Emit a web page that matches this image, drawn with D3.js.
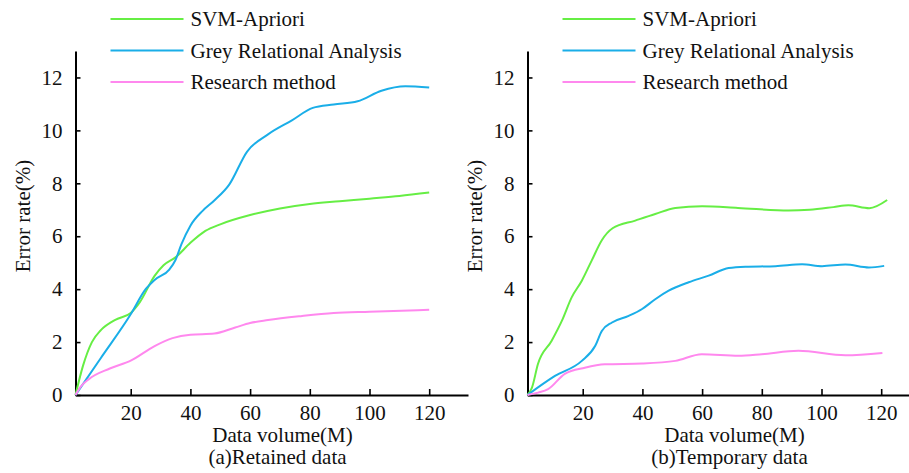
<!DOCTYPE html>
<html>
<head>
<meta charset="utf-8">
<script src="https://cdn.jsdelivr.net/npm/d3@7"></script>
<style>
  body { margin: 0; background: #fff; }
  svg, svg text { font-family: "Liberation Serif", "Times New Roman", Times, "DejaVu Serif", serif !important; }
</style>
</head>
<body>
<svg></svg>
<script>
// dati: (a) dati conservati, (b) dati temporanei
const seriesNames = ["SVM-Apriori", "Grey Relational Analysis", "Research method"];
const seriesColors = ["#66ee44", "#1aaee8", "#ff88ee"];
const xTicks = [20, 40, 60, 80, 100, 120];
const yTicks = [0, 2, 4, 6, 8, 10, 12];

// (a) Retained data
const retSvmX = [1.5, 4, 7, 10, 15, 20, 23, 28, 31, 35, 40, 45, 50, 60, 70, 80, 90, 100, 110, 120];
const retSvmY = [0, 1.1, 2.0, 2.45, 2.85, 3.1, 3.5, 4.5, 4.9, 5.2, 5.75, 6.2, 6.45, 6.8, 7.05, 7.22, 7.32, 7.42, 7.52, 7.65];
const retGreyX = [1.5, 10, 20, 25, 28, 33, 35, 37, 40, 44, 48, 53, 59, 66, 74, 81, 88, 96, 104, 112, 120];
const retGreyY = [0, 1.4, 3.05, 4.0, 4.35, 4.75, 5.1, 5.7, 6.4, 6.95, 7.35, 7.95, 9.2, 9.85, 10.38, 10.85, 10.98, 11.1, 11.5, 11.67, 11.62];
const retResX = [1.5, 3, 6, 13, 20, 28, 34, 40, 48, 55, 60, 66, 77, 88, 100, 120];
const retResY = [0, 0.28, 0.6, 1.0, 1.3, 1.85, 2.15, 2.28, 2.32, 2.55, 2.72, 2.83, 2.98, 3.1, 3.15, 3.22];

// (b) Temporary data
const tmpSvmX = [1.5, 3, 5, 9.6, 13, 16.3, 19.7, 23, 26.4, 30, 37.6, 44.3, 51, 60, 72, 89, 96, 104, 109, 116, 122];
const tmpSvmY = [0, 0.28, 1.17, 2.05, 2.8, 3.69, 4.32, 5.08, 5.85, 6.3, 6.59, 6.84, 7.07, 7.13, 7.07, 6.97, 7.0, 7.1, 7.17, 7.06, 7.37];
const tmpGreyX = [1.5, 10.7, 19.7, 24.2, 26.4, 29.8, 35.4, 39.9, 44.3, 48.8, 55.5, 62.2, 68.9, 74.5, 84.6, 93.5, 100.2, 108, 115.9, 121];
const tmpGreyY = [0, 0.72, 1.29, 1.86, 2.42, 2.74, 2.99, 3.25, 3.62, 3.94, 4.26, 4.51, 4.8, 4.85, 4.87, 4.94, 4.87, 4.93, 4.82, 4.88];
const tmpResX = [1.5, 5.1, 8.4, 14, 20.7, 27.4, 39.9, 51, 59.9, 72.2, 80, 92.3, 108, 120.4];
const tmpResY = [0, 0.09, 0.22, 0.8, 1.03, 1.16, 1.19, 1.29, 1.54, 1.48, 1.54, 1.67, 1.5, 1.59];

const width = 909;
const height = 473;
const serif = "'Liberation Serif', 'Times New Roman', Times, serif";

const svg = d3.select("svg")
    .attr("width", width)
    .attr("height", height);

// un pannello per ogni sottografico
function drawPanel(left, caption, series) {
    const x = d3.scaleLinear().domain([1.5, 133]).range([left, left + 392.5]);
    const y = d3.scaleLinear().domain([0, 13]).range([395, 51]);

    const g = svg.append("g");

    const xAxis = g.append("g")
        .attr("transform", "translate(0,395)")
        .call(d3.axisBottom(x).tickValues(xTicks).tickSizeInner(-6).tickSizeOuter(0).tickPadding(10));

    const yAxis = g.append("g")
        .attr("transform", `translate(${left},0)`)
        .call(d3.axisLeft(y).tickValues(yTicks).tickSizeInner(-5).tickSizeOuter(0).tickPadding(13));

    [xAxis, yAxis].forEach(a => {
        a.attr("font-family", serif).attr("font-size", 21);
        a.select(".domain").attr("stroke", "#000").attr("stroke-width", 2);
        a.selectAll(".tick line").attr("stroke", "#000").attr("stroke-width", 1.6);
        a.selectAll(".tick text").attr("fill", "#111");
    });

    const line = d3.line()
        .x(d => x(d[0]))
        .y(d => y(d[1]))
        .curve(d3.curveMonotoneX);

    series.forEach((s, i) => {
        g.append("path")
            .datum(d3.zip(s[0], s[1]))
            .attr("fill", "none")
            .attr("stroke", seriesColors[i])
            .attr("stroke-width", 2)
            .attr("d", line);
    });

    // titoli degli assi
    g.append("text")
        .attr("x", left + 207)
        .attr("y", 442)
        .attr("text-anchor", "middle")
        .attr("font-family", serif)
        .attr("font-size", 21)
        .attr("fill", "#111")
        .text("Data volume(M)");

    g.append("text")
        .attr("x", left + 202)
        .attr("y", 464)
        .attr("text-anchor", "middle")
        .attr("font-family", serif)
        .attr("font-size", 21)
        .attr("fill", "#111")
        .text(caption);

    g.append("text")
        .attr("transform", `translate(${left - 46},216) rotate(-90)`)
        .attr("text-anchor", "middle")
        .attr("font-family", serif)
        .attr("font-size", 21)
        .attr("fill", "#111")
        .text("Error rate(%)");

    // legenda
    const legend = g.append("g");
    seriesNames.forEach((name, i) => {
        const ly = 19 + i * 31.5;
        legend.append("line")
            .attr("x1", left + 35).attr("x2", left + 108)
            .attr("y1", ly).attr("y2", ly)
            .attr("stroke", seriesColors[i])
            .attr("stroke-width", 2.2);
        legend.append("text")
            .attr("x", left + 115)
            .attr("y", ly + 7)
            .attr("font-family", serif)
            .attr("font-size", 21)
            .attr("fill", "#111")
            .text(name);
    });
}

drawPanel(75.5, "(a)Retained data", [[retSvmX, retSvmY], [retGreyX, retGreyY], [retResX, retResY]]);
drawPanel(527.5, "(b)Temporary data", [[tmpSvmX, tmpSvmY], [tmpGreyX, tmpGreyY], [tmpResX, tmpResY]]);
</script>
</body>
</html>
